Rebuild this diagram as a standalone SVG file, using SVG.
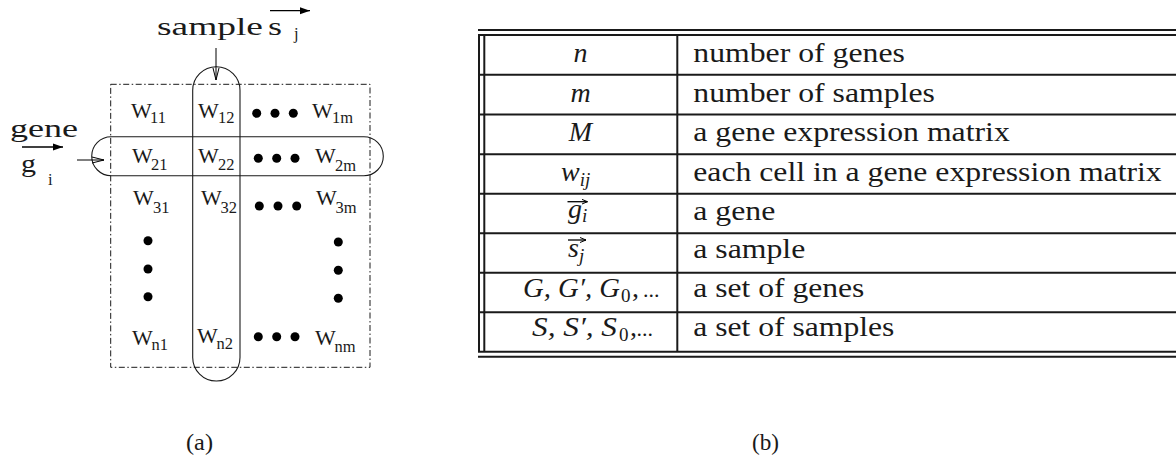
<svg xmlns="http://www.w3.org/2000/svg" width="1176" height="470" viewBox="0 0 1176 470">
<style>
  .t { font-family: "Liberation Serif", "Times New Roman", serif; fill: #1a1a1a; }
  .w { font-size: 22px; }
  .sub { font-size: 16.5px; }
  .lbl { font-size: 25px; }
  .tx { font-size: 27px; }
  .mi { font-size: 28px; font-style: italic; }
  .ms { font-size: 19px; font-style: italic; }
  .up { font-style: normal; }
  .dots3 { font-size: 22px; font-style: normal; }
  .shape { fill: none; stroke: #1a1a1a; stroke-width: 1.1; }
  .frame { fill: none; stroke: #1a1a1a; stroke-width: 1; stroke-dasharray: 6 2.5 1.5 2.5; }
  .rule { stroke: #1a1a1a; stroke-width: 2; fill: none; }
  .dot { fill: #000; }
  .vec { stroke: #000; stroke-width: 1.3; fill: none; }
</style>
<defs>
  <marker id="stick" viewBox="0 0 12 8" refX="12" refY="4" markerWidth="12" markerHeight="8" markerUnits="userSpaceOnUse" orient="auto">
    <path d="M0,1 L12,4 L0,7" fill="none" stroke="#000" stroke-width="1"/>
  </marker>
  <marker id="vhead" viewBox="0 0 10 8" refX="10" refY="4" markerWidth="10" markerHeight="8" markerUnits="userSpaceOnUse" orient="auto">
    <path d="M0,0.5 L10,4 L0,7.5 Z" fill="#000"/>
  </marker>
  <marker id="vsmall" viewBox="0 0 6 6" refX="6" refY="3" markerWidth="6" markerHeight="6" markerUnits="userSpaceOnUse" orient="auto">
    <path d="M0,0.5 L6,3 L0,5.5" fill="none" stroke="#000" stroke-width="1"/>
  </marker>
</defs>

<!-- (a) matrix figure -->
<g id="matrix-frame">
  <rect class="frame" x="110.7" y="84.3" width="259.3" height="283"/>
</g>
<g id="sample-column">
  <rect class="shape" x="192.7" y="66.7" width="47.3" height="314.3" rx="23.6" ry="23.6"/>
</g>
<g id="gene-row">
  <rect class="shape" x="91.7" y="136.7" width="291.6" height="39" rx="19.5" ry="19.5"/>
</g>

<g id="label-sample">
  <text class="t lbl" x="157" y="35" textLength="106" lengthAdjust="spacingAndGlyphs">sample</text>
  <text class="t lbl" x="268" y="35" textLength="14" lengthAdjust="spacingAndGlyphs">s</text>
  <text class="t sub" x="294" y="38.5" font-size="15">j</text>
  <line class="vec" x1="270" y1="10.7" x2="310" y2="10.7" marker-end="url(#vhead)"/>
</g>
<g id="label-gene">
  <text class="t lbl" x="10" y="137" textLength="68" lengthAdjust="spacingAndGlyphs">gene</text>
  <text class="t lbl" x="21" y="172" textLength="15" lengthAdjust="spacingAndGlyphs">g</text>
  <text class="t sub" x="48" y="185" font-size="15">i</text>
  <line class="vec" x1="22" y1="147" x2="63" y2="147" marker-end="url(#vhead)"/>
</g>

<g id="cells">
  <g id="w11"><text class="t w" x="131" y="118">W</text><text class="t sub" x="150" y="123">11</text></g>
  <g id="w12"><text class="t w" x="198" y="118">W</text><text class="t sub" x="218" y="123">12</text></g>
  <g id="w1m"><text class="t w" x="312" y="118">W</text><text class="t sub" x="332" y="123">1m</text></g>
  <g id="w21"><text class="t w" x="132" y="163">W</text><text class="t sub" x="151" y="170">21</text></g>
  <g id="w22"><text class="t w" x="198" y="163">W</text><text class="t sub" x="218" y="170">22</text></g>
  <g id="w2m"><text class="t w" x="315" y="163">W</text><text class="t sub" x="335" y="171">2m</text></g>
  <g id="w31"><text class="t w" x="133" y="205">W</text><text class="t sub" x="153" y="213">31</text></g>
  <g id="w32"><text class="t w" x="201" y="205">W</text><text class="t sub" x="220.5" y="213">32</text></g>
  <g id="w3m"><text class="t w" x="316" y="205">W</text><text class="t sub" x="335.5" y="213">3m</text></g>
  <g id="wn1"><text class="t w" x="132" y="345">W</text><text class="t sub" x="151.5" y="350">n1</text></g>
  <g id="wn2"><text class="t w" x="197" y="343">W</text><text class="t sub" x="216.5" y="349">n2</text></g>
  <g id="wnm"><text class="t w" x="315" y="345">W</text><text class="t sub" x="334.5" y="352">nm</text></g>
</g>
<g id="ellipses">
  <circle class="dot" cx="256.7" cy="113.3" r="4.5"/><circle class="dot" cx="275" cy="113.3" r="4.5"/><circle class="dot" cx="293.3" cy="113.3" r="4.5"/>
  <circle class="dot" cx="258.3" cy="158.3" r="4.5"/><circle class="dot" cx="276.7" cy="158.3" r="4.5"/><circle class="dot" cx="295" cy="158.3" r="4.5"/>
  <circle class="dot" cx="259.3" cy="206" r="4.5"/><circle class="dot" cx="278" cy="206" r="4.5"/><circle class="dot" cx="296.7" cy="206" r="4.5"/>
  <circle class="dot" cx="258.3" cy="336.7" r="4.5"/><circle class="dot" cx="276.7" cy="336.7" r="4.5"/><circle class="dot" cx="295" cy="336.7" r="4.5"/>
  <circle class="dot" cx="148" cy="240.7" r="4.5"/><circle class="dot" cx="148" cy="269" r="4.5"/><circle class="dot" cx="148" cy="296.7" r="4.5"/>
  <circle class="dot" cx="338.3" cy="242" r="4.5"/><circle class="dot" cx="338.3" cy="270.3" r="4.5"/><circle class="dot" cx="338.3" cy="298.3" r="4.5"/>
</g>
<g id="connectors">
  <line x1="216" y1="48" x2="216" y2="80" stroke="#000" stroke-width="1" marker-end="url(#stick)"/>
  <line x1="77" y1="160" x2="104" y2="160" stroke="#000" stroke-width="1" marker-end="url(#stick)"/>
</g>

<!-- (b) notation table -->
<g id="table">
  <g id="rules">
    <line class="rule" x1="478" y1="30" x2="1176" y2="30"/>
    <line class="rule" x1="478" y1="35" x2="1176" y2="35"/>
    <line class="rule" x1="478" y1="74.7" x2="1176" y2="74.7"/>
    <line class="rule" x1="478" y1="114.5" x2="1176" y2="114.5"/>
    <line class="rule" x1="478" y1="154.2" x2="1176" y2="154.2"/>
    <line class="rule" x1="478" y1="193.8" x2="1176" y2="193.8"/>
    <line class="rule" x1="478" y1="233.3" x2="1176" y2="233.3"/>
    <line class="rule" x1="478" y1="272.8" x2="1176" y2="272.8"/>
    <line class="rule" x1="478" y1="312.2" x2="1176" y2="312.2"/>
    <line class="rule" x1="478" y1="351.8" x2="1176" y2="351.8"/>
    <line class="rule" x1="478" y1="356.8" x2="1176" y2="356.8"/>
    <line class="rule" x1="479" y1="35" x2="479" y2="351.8"/>
    <line class="rule" x1="484.3" y1="35" x2="484.3" y2="351.8"/>
    <line class="rule" x1="677.3" y1="35" x2="677.3" y2="351.8"/>
  </g>
  <g id="symbols">
    <text class="t mi" x="580.5" y="62" text-anchor="middle">n</text>
    <text class="t mi" x="580.5" y="101.5" text-anchor="middle">m</text>
    <text class="t mi" x="580.5" y="141" text-anchor="middle">M</text>
    <text class="t mi" x="561" y="180.5">w<tspan class="ms" dy="5">ij</tspan></text>
    <text class="t mi" x="568" y="217.5">g<tspan class="ms" dy="4">i</tspan></text>
    <line class="vec" x1="567.5" y1="201.7" x2="587.5" y2="201.7" stroke-width="1.1" marker-end="url(#vsmall)"/>
    <text class="t mi" x="568" y="257">s<tspan class="ms" dy="5">j</tspan></text>
    <line class="vec" x1="568" y1="240" x2="586" y2="240" stroke-width="1.1" marker-end="url(#vsmall)"/>
    <text class="t mi" x="523" y="296.5" textLength="97" lengthAdjust="spacingAndGlyphs">G, G′, G</text>
    <text class="t ms up" x="621" y="301.5">0</text>
    <text class="t mi up" x="632" y="296.5">,</text>
    <text class="t dots3" x="643" y="296.5">...</text>
    <text class="t mi" x="532" y="335.5" textLength="85" lengthAdjust="spacingAndGlyphs">S, S′, S</text>
    <text class="t ms up" x="619" y="340.5">0</text>
    <text class="t mi up" x="630" y="335.5">,</text>
    <text class="t dots3" x="636.5" y="335.5">...</text>
  </g>
  <g id="descriptions">
    <text class="t tx" x="693.3" y="62" textLength="211.6" lengthAdjust="spacingAndGlyphs">number of genes</text>
    <text class="t tx" x="693.3" y="101.5" textLength="241.6" lengthAdjust="spacingAndGlyphs">number of samples</text>
    <text class="t tx" x="693.3" y="141" textLength="316.5" lengthAdjust="spacingAndGlyphs">a gene expression matrix</text>
    <text class="t tx" x="693.3" y="180.5" textLength="468.4" lengthAdjust="spacingAndGlyphs">each cell in a gene expression matrix</text>
    <text class="t tx" x="693.3" y="220" textLength="82" lengthAdjust="spacingAndGlyphs">a gene</text>
    <text class="t tx" x="693.3" y="258" textLength="112" lengthAdjust="spacingAndGlyphs">a sample</text>
    <text class="t tx" x="693.3" y="296.5" textLength="171" lengthAdjust="spacingAndGlyphs">a set of genes</text>
    <text class="t tx" x="693.3" y="335.5" textLength="201" lengthAdjust="spacingAndGlyphs">a set of samples</text>
  </g>
</g>

<g id="captions">
  <text class="t" x="186" y="450" font-size="23" textLength="27" lengthAdjust="spacingAndGlyphs">(a)</text>
  <text class="t" x="752" y="450" font-size="23" textLength="27" lengthAdjust="spacingAndGlyphs">(b)</text>
</g>
</svg>
